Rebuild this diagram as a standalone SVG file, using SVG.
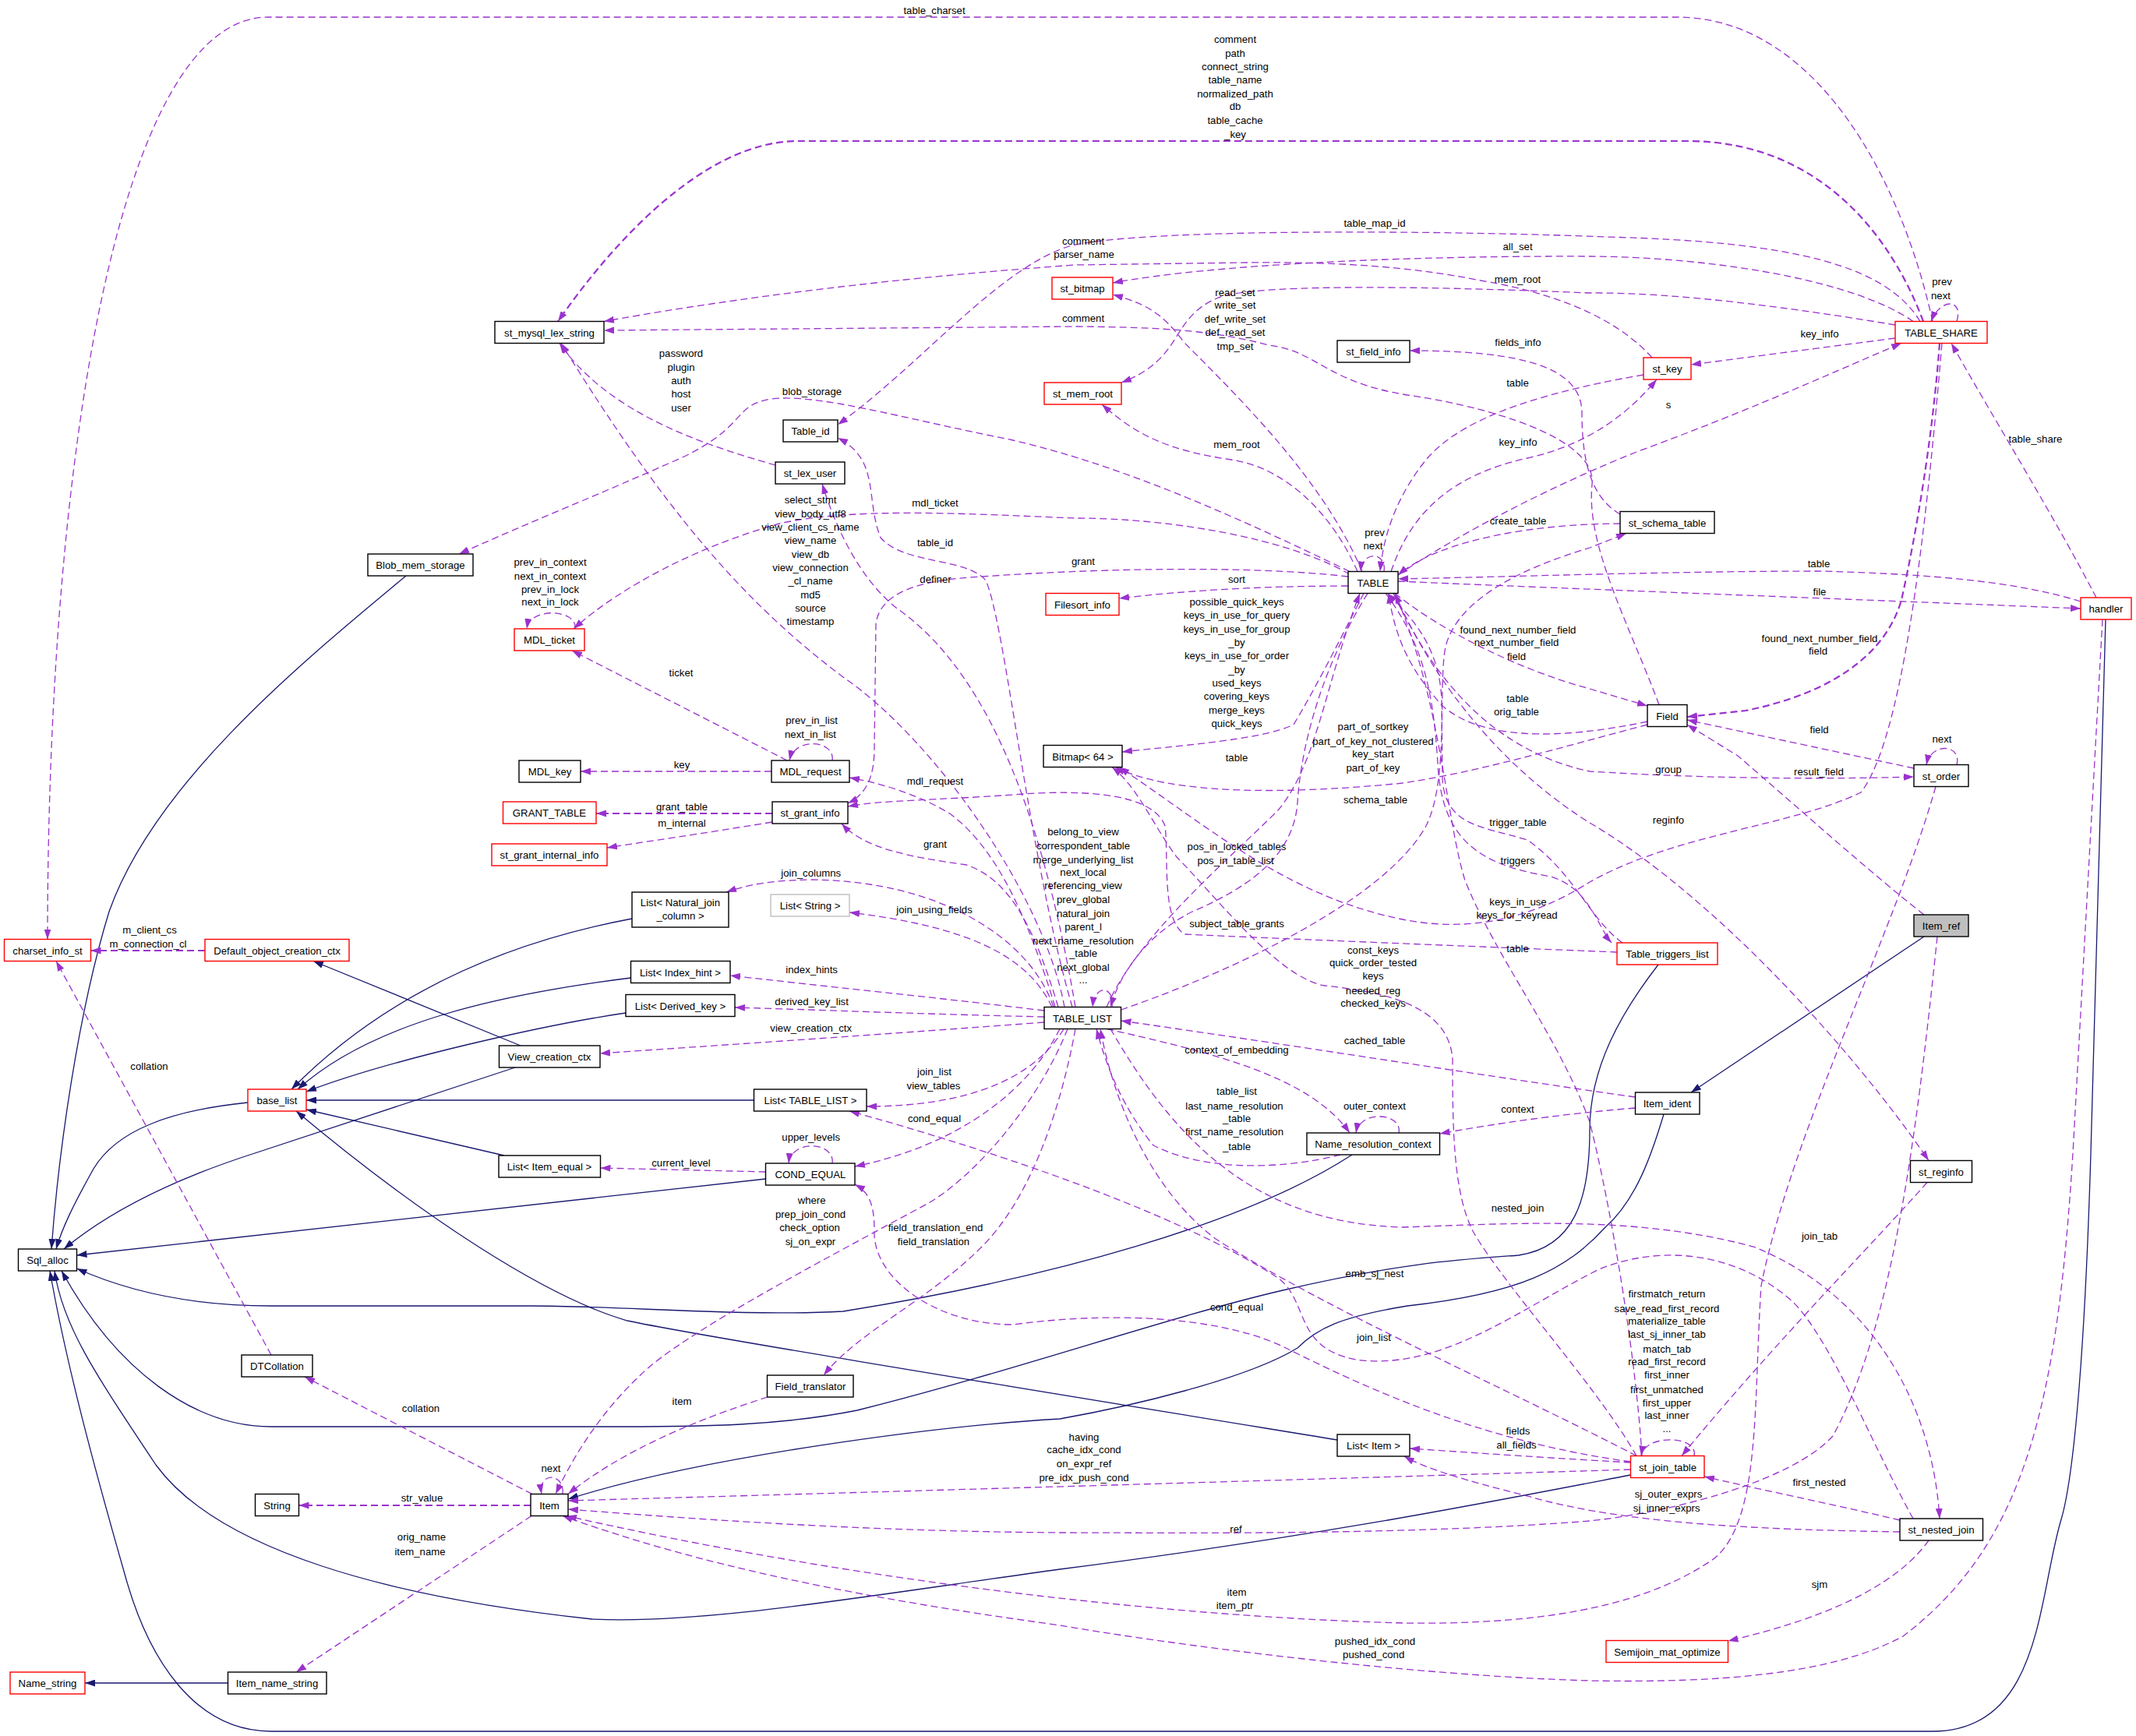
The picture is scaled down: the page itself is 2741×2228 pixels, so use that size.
<svg xmlns="http://www.w3.org/2000/svg" width="2741" height="2228" viewBox="0 0 2741 2228">
<defs>
<style>
.n rect{fill:#fff;stroke:#000;stroke-width:1.4}
.n.r rect{stroke:#ff0000}
.n.g rect{stroke:#bfbfbf}
.n.f rect{fill:#bfbfbf}
text{font-family:"Liberation Sans",Arial,Helvetica,sans-serif;font-size:13.2px;text-anchor:middle;fill:#000}
.d{fill:none;stroke:#9a32cd;stroke-width:1.3;stroke-dasharray:9,5;marker-end:url(#ap)}
.d2{stroke-width:2.2}
.s{fill:none;stroke:#191970;stroke-width:1.3;marker-end:url(#an)}
</style>
<marker id="ap" markerUnits="userSpaceOnUse" markerWidth="13" markerHeight="9" refX="13" refY="4.5" orient="auto"><path d="M0,0 L13,4.5 L0,9 z" fill="#9a32cd"/></marker>
<marker id="an" markerUnits="userSpaceOnUse" markerWidth="13" markerHeight="9" refX="13" refY="4.5" orient="auto"><path d="M0,0 L13,4.5 L0,9 z" fill="#191970"/></marker>
</defs>
<rect width="2741" height="2228" fill="#fff"/>
<g id="edges">
<path class="s" d="M 521 739 C 400 840, 200 1000, 140 1170 C 100 1300, 75 1480, 66 1603"/>
<path class="s" d="M 668 1342 L 402 1233.5"/>
<path class="s" d="M 661 1370 L 330 1479 Q 170 1530 82 1603"/>
<path class="s" d="M 318 1415 C 220 1425, 150 1450, 120 1500 C 95 1545, 80 1575, 72 1603"/>
<path class="s" d="M 811 1179 C 700 1200, 520 1250, 374 1398"/>
<path class="s" d="M 809.5 1255 C 650 1275, 480 1310, 382 1398"/>
<path class="s" d="M 803 1300 C 700 1315, 500 1360, 393 1401"/>
<path class="s" d="M 967.5 1412 L 393 1412"/>
<path class="s" d="M 647 1483 L 393 1424"/>
<path class="s" d="M 1716 1848 C 1300 1780, 900 1715, 805 1695 C 700 1665, 540 1560, 380 1426"/>
<path class="s" d="M 982.5 1513 L 98.5 1611"/>
<path class="s" d="M 1735 1482 C 1600 1570, 1350 1640, 1082 1683 C 950 1690, 800 1676, 680 1676 L 348 1676 C 250 1676, 170 1660, 98.5 1628"/>
<path class="s" d="M 2128 1238 C 2080 1300, 2040 1370, 2040 1450 C 2040 1540, 2020 1600, 1949 1611 C 1880 1616, 1800 1620, 1646 1656 C 1500 1690, 1300 1760, 1100 1810 C 1000 1830, 900 1831, 800 1831 L 348 1831 C 250 1831, 150 1760, 79 1631"/>
<path class="s" d="M 2135 1430 C 2120 1480, 2100 1540, 2060 1575 C 2010 1630, 1950 1660, 1806 1676 C 1720 1690, 1690 1705, 1665 1730 C 1600 1770, 1450 1805, 1360 1821 C 1200 1830, 900 1870, 729 1924"/>
<path class="s" d="M 2092.5 1893 C 1900 1930, 1700 1970, 1360 2014 C 1100 2050, 900 2085, 760 2078 C 500 2050, 280 1990, 200 1880 C 120 1760, 80 1700, 70 1631"/>
<path class="s" d="M 2702 795 L 2683 1480 C 2675 1750, 2660 1900, 2645 1950 C 2615 2050, 2620 2222, 2480 2222 L 348 2222 C 250 2222, 190 2130, 160 2020 C 120 1880, 85 1750, 64 1631"/>
<path class="s" d="M 2469 1202 L 2170 1402"/>
<path class="s" d="M 292.5 2160 L 109 2160"/>

<path class="d" d="M 2480 412.5 C 2440 230, 2330 22, 2152 22 L 344 22 C 150 22, 61 600, 61 1205.5"/>
<path class="d d2" d="M 2468 412.5 C 2430 310, 2340 181, 2165 181 L 1024 181 C 900 181, 780 320, 716 412.5"/>
<path class="d" d="M 2464 412.5 C 2420 340, 2300 310, 2060 304 C 1800 294, 1450 295, 1372 316 C 1280 345, 1180 470, 1075 545"/>
<path class="d" d="M 2120 459 C 2085 420, 2020 380, 1900 360 C 1800 340, 1700 336, 1600 337 L 1380 340 C 1100 360, 900 390, 775 412.5"/>
<path class="d" d="M 2455 412.5 C 2380 360, 2200 330, 2040 329 C 1800 328, 1550 340, 1428 363"/>
<path class="d" d="M 2432 417 C 2300 395, 2150 375, 2040 376 C 1800 366, 1600 365, 1561 383 C 1500 410, 1520 460, 1439 491"/>
<path class="d" d="M 2432 434 L 2170 468"/>
<path class="d" d="M 2511 412.5 C 2520 383, 2490 382, 2478 412.5"/>
<path class="d" d="M 1748 733.5 C 1700 620, 1600 520, 1520 440 C 1490 400, 1470 390, 1428 378"/>
<path class="d" d="M 2129 904.5 C 2090 800, 2035 700, 2043 622 C 2050 560, 1900 520, 1806 507 C 1700 490, 1690 450, 1628 443 C 1560 425, 1500 420, 1380 419 L 775 424"/>
<path class="d" d="M 2079 660 C 2045 640, 2030 600, 2030 530 C 2030 470, 1950 450, 1809 450"/>
<path class="d" d="M 995 597 C 900 570, 780 530, 718 440.5"/>
<path class="d" d="M 2109 481 C 2000 500, 1880 530, 1830 590 C 1790 640, 1775 690, 1771 733.5"/>
<path class="d" d="M 1732 733.5 C 1600 670, 1450 600, 1300 565 C 1150 535, 1050 505, 990 512 C 940 520, 960 545, 880 585 C 780 630, 680 670, 589 711"/>
<path class="d" d="M 1794 738 C 1880 680, 2000 620, 2100 580 C 2250 525, 2370 470, 2440 440.5"/>
<path class="d" d="M 2690 767 C 2640 670, 2560 540, 2504 440.5"/>
<path class="d" d="M 1785 733.5 C 1810 660, 1860 610, 1960 588 C 2040 570, 2090 530, 2126 487"/>
<path class="d" d="M 1742 733.5 C 1710 660, 1650 600, 1580 590 C 1500 578, 1460 560, 1414 519"/>
<path class="d" d="M 1366 1292.5 C 1340 1150, 1200 950, 1082 869 C 950 770, 850 650, 720 440.5"/>
<path class="d" d="M 1732 737 C 1650 690, 1500 665, 1380 665 C 1250 660, 1100 650, 1000 672 C 900 700, 800 750, 736 807"/>
<path class="d" d="M 2079 672 C 1980 672, 1850 690, 1794 738"/>
<path class="d" d="M 1776 733.5 C 1780 708, 1748 706, 1746 733.5"/>
<path class="d" d="M 738 807 C 742 782, 680 778, 676 807"/>
<path class="d" d="M 1376 1292.5 C 1320 1100, 1290 800, 1265 745 C 1240 715, 1160 725, 1130 690 C 1110 640, 1130 590, 1075 562"/>
<path class="d" d="M 2670 772 C 2600 750, 2500 737, 2334 733 C 2150 733, 1950 740, 1794 743"/>
<path class="d" d="M 1730 740 C 1600 725, 1400 730, 1260 740 C 1180 744, 1130 760, 1124 800 L 1122 960 C 1122 1000, 1110 1020, 1088 1031"/>
<path class="d" d="M 1730 752 C 1620 752, 1520 758, 1436 768"/>
<path class="d" d="M 1380 1292.5 C 1330 1000, 1250 850, 1150 780 C 1100 740, 1070 670, 1055 621"/>
<path class="d" d="M 1794 746 C 2000 755, 2400 770, 2670 781"/>
<path class="d" d="M 1750 761.5 C 1720 820, 1690 880, 1660 930 C 1620 950, 1500 958, 1440 965"/>
<path class="d" d="M 1790 761.5 C 1850 810, 1950 860, 2040 884 L 2114 906"/>
<path class="d d2" d="M 2489 440.5 C 2480 560, 2460 680, 2440 770 C 2420 840, 2350 890, 2240 912 L 2165 920"/>
<path class="d" d="M 1010 976 L 734 835"/>
<path class="d" d="M 2114 926 C 2000 950, 1900 950, 1850 905 C 1810 860, 1790 820, 1782 761.5"/>
<path class="d" d="M 1068 976 C 1072 950, 1020 945, 1013 976"/>
<path class="d" d="M 2114 930 C 2000 960, 1900 990, 1800 1005 C 1650 1020, 1500 1020, 1431 984.5"/>
<path class="d" d="M 2456 986 L 2165 924"/>
<path class="d" d="M 2511 981.5 C 2518 955, 2478 952, 2472 981.5"/>
<path class="d" d="M 1788 761.5 C 1830 850, 1900 960, 2040 990 C 2200 1000, 2350 1000, 2456 997"/>
<path class="d" d="M 2469 1174 C 2400 1120, 2300 1030, 2230 970 L 2165 930"/>
<path class="d" d="M 1354 1292.5 C 1320 1180, 1280 1090, 1220 1045 C 1180 1020, 1130 1005, 1090 998"/>
<path class="d" d="M 1438.5 1296 C 1600 1240, 1780 1150, 1830 1060 C 1860 1000, 1845 880, 1855 830 C 1870 770, 1950 730, 2040 703 L 2087 684.5"/>
<path class="d" d="M 1790 761.5 C 1850 900, 1950 1000, 2040 1056 C 2200 1150, 2380 1350, 2475 1489.5"/>
<path class="d" d="M 2082 1210 C 2040 1180, 2020 1120, 1960 1078 C 1900 1060, 1855 1060, 1851 1000 L 1850 900 C 1848 830, 1810 790, 1780 761.5"/>
<path class="d" d="M 1778 761.5 C 1830 830, 1840 900, 1845 980 C 1850 1080, 1900 1110, 1990 1125 C 2040 1140, 2050 1190, 2068 1210"/>
<path class="d" d="M 1427 1292.5 C 1430 1265, 1405 1262, 1402 1292.5"/>
<path class="d" d="M 1358 1292.5 C 1330 1200, 1300 1130, 1240 1110 C 1170 1100, 1110 1090, 1080 1057"/>
<path class="d" d="M 1755 761.5 C 1700 850, 1670 950, 1665 1030 C 1660 1100, 1600 1140, 1530 1170 C 1480 1195, 1440 1240, 1425 1292.5"/>
<path class="d" d="M 1420 1292.5 C 1460 1200, 1580 1100, 1640 1040 C 1690 980, 1700 880, 1745 761.5"/>
<path class="d" d="M 1352 1292.5 C 1320 1200, 1200 1130, 1040 1129 C 990 1130, 960 1135, 932 1145"/>
<path class="d" d="M 1350 1292.5 C 1320 1230, 1250 1190, 1090 1171"/>
<path class="d" d="M 2492 440.5 C 2470 700, 2440 950, 2388 1017 C 2300 1060, 2150 1070, 2040 1132 C 1980 1170, 1900 1200, 1800 1180 C 1650 1150, 1550 1060, 1436 984.5"/>
<path class="d" d="M 2075 1222 C 1900 1215, 1650 1205, 1520 1199 C 1490 1180, 1500 1100, 1495 1060 C 1480 1020, 1400 1012, 1300 1020 C 1200 1027, 1130 1027, 1088 1035"/>
<path class="d" d="M 2107 1868.5 C 2100 1750, 2070 1560, 2040 1440 C 2000 1330, 1920 1230, 1880 1130 C 1855 1050, 1850 900, 1790 761.5"/>
<path class="d" d="M 2100 1868.5 C 2050 1780, 1930 1650, 1890 1580 C 1865 1530, 1864 1450, 1864 1360 C 1860 1300, 1800 1275, 1700 1265 C 1640 1255, 1560 1150, 1510 1100 C 1480 1060, 1460 1010, 1427 984.5"/>
<path class="d" d="M 1340 1297 C 1200 1280, 1050 1265, 937 1252"/>
<path class="d" d="M 1340 1305 C 1200 1302, 1050 1296, 943 1293"/>
<path class="d" d="M 1340 1312 C 1100 1330, 900 1343, 770 1352"/>
<path class="d" d="M 2098.5 1408 C 1900 1380, 1650 1340, 1438.5 1310"/>
<path class="d" d="M 1420 1320.5 C 1550 1350, 1680 1380, 1732 1454"/>
<path class="d" d="M 348 1739 L 72 1233.5"/>
<path class="d d2" d="M 263 1220 L 116.5 1220"/>
<path class="d" d="M 1365 1320.5 C 1330 1380, 1250 1420, 1112 1420"/>
<path class="d" d="M 1720 1482 C 1650 1500, 1550 1505, 1480 1470 C 1440 1420, 1420 1370, 1407 1320.5"/>
<path class="d" d="M 1795 1454 C 1800 1428, 1745 1424, 1740 1454"/>
<path class="d" d="M 2098.5 1422 C 2000 1430, 1920 1442, 1847.5 1455"/>
<path class="d" d="M 1360 1320.5 C 1320 1400, 1230 1470, 1097 1497"/>
<path class="d" d="M 1068 1493 C 1072 1465, 1015 1462, 1012 1493"/>
<path class="d" d="M 982.5 1504 L 770.5 1499"/>
<path class="d" d="M 1370 1320.5 C 1330 1420, 1250 1510, 1190 1545 C 1050 1620, 900 1700, 836 1752 C 780 1800, 740 1860, 713 1917.5"/>
<path class="d" d="M 1380 1320.5 C 1360 1430, 1320 1540, 1260 1600 C 1190 1670, 1100 1710, 1057 1765"/>
<path class="d" d="M 1425 1320.5 C 1500 1450, 1600 1570, 1800 1575 C 1950 1570, 2100 1560, 2250 1600 C 2400 1660, 2480 1800, 2489 1949"/>
<path class="d" d="M 2473 1517.5 C 2400 1600, 2280 1720, 2158 1868.5"/>
<path class="d" d="M 2100 1868.5 C 1950 1790, 1700 1680, 1560 1590 C 1480 1530, 1430 1420, 1412 1320.5"/>
<path class="d" d="M 2174 1868.5 C 2180 1842, 2110 1840, 2106 1868.5"/>
<path class="d" d="M 2092.5 1876 C 1900 1850, 1750 1780, 1650 1730 C 1580 1695, 1450 1680, 1300 1700 C 1200 1700, 1120 1640, 1122 1580 C 1122 1545, 1115 1530, 1097 1520"/>
<path class="d" d="M 2455 1949 C 2400 1850, 2350 1720, 2300 1670 C 2220 1600, 2120 1600, 2050 1630 C 1950 1680, 1850 1760, 1740 1745 C 1660 1730, 1680 1670, 1640 1640 C 1500 1550, 1250 1470, 1090 1426"/>
<path class="d" d="M 985 1793 C 900 1820, 800 1860, 729 1917.5"/>
<path class="d" d="M 683 1917.5 L 391 1767"/>
<path class="d" d="M 2092.5 1877 C 2000 1872, 1900 1865, 1809 1859"/>
<path class="d" d="M 2092.5 1886 C 1800 1895, 1300 1910, 729 1926"/>
<path class="d" d="M 722 1917.5 C 725 1890, 690 1888, 695 1917.5"/>
<path class="d" d="M 2438 1951 C 2350 1930, 2250 1910, 2187 1895"/>
<path class="d" d="M 2438 1966 C 2250 1963, 2080 1955, 1960 1920 C 1880 1900, 1830 1885, 1802 1869"/>
<path class="d d2" d="M 681 1932 L 383.5 1932"/>
<path class="d" d="M 2486 1202 C 2460 1450, 2430 1700, 2352 1843 C 2300 1900, 2150 1940, 2040 1952 C 1800 1971, 1500 1967, 1360 1967 C 1100 1965, 900 1950, 729 1937"/>
<path class="d" d="M 682 1945.5 L 380 2146"/>
<path class="d" d="M 2475 1977 C 2430 2040, 2330 2080, 2217.5 2106"/>
<path class="d" d="M 2484 1009.5 C 2430 1200, 2300 1450, 2260 1650 C 2250 1800, 2260 1950, 2200 2000 C 2100 2070, 1950 2085, 1800 2083 C 1500 2075, 1100 2030, 727 1945.5"/>
<path class="d" d="M 2698 795 L 2660 1480 C 2640 1800, 2600 1980, 2442 2100 C 2350 2150, 2200 2160, 2040 2157 C 1800 2150, 1500 2110, 1360 2086 C 1100 2050, 900 2010, 722 1945.5"/>
<path class="d" d="M 990 990 L 745 990"/>
<path class="d d2" d="M 991 1044 L 765 1044"/>
<path class="d" d="M 991 1055 C 900 1070, 830 1080, 779 1088"/>
</g>
<g id="edge-labels">
<text x="1199" y="18">table_charset</text>
<text x="1585" y="55">comment</text>
<text x="1585" y="72.5">path</text>
<text x="1585" y="89.7">connect_string</text>
<text x="1585" y="107.4">table_name</text>
<text x="1585" y="124.6">normalized_path</text>
<text x="1585" y="141.4">db</text>
<text x="1585" y="159">table_cache</text>
<text x="1585" y="176.8">_key</text>
<text x="1764" y="291">table_map_id</text>
<text x="1390" y="313.6">comment</text>
<text x="1391" y="331">parser_name</text>
<text x="1947.5" y="321">all_set</text>
<text x="1947.5" y="363">mem_root</text>
<text x="2492" y="366">prev</text>
<text x="2490.5" y="383.5">next</text>
<text x="1585" y="379.6">read_set</text>
<text x="1585" y="396">write_set</text>
<text x="1585" y="413.6">def_write_set</text>
<text x="1585" y="431">def_read_set</text>
<text x="1585" y="448.5">tmp_set</text>
<text x="1390" y="413">comment</text>
<text x="2335" y="433">key_info</text>
<text x="1948" y="444">fields_info</text>
<text x="874" y="457.6">password</text>
<text x="874" y="475.8">plugin</text>
<text x="874" y="493">auth</text>
<text x="874" y="509.8">host</text>
<text x="874" y="527.5">user</text>
<text x="1947.5" y="496">table</text>
<text x="1042" y="507">blob_storage</text>
<text x="2141" y="523.7">s</text>
<text x="2612" y="568">table_share</text>
<text x="1948" y="571.5">key_info</text>
<text x="1587" y="575">mem_root</text>
<text x="1040" y="645.6">select_stmt</text>
<text x="1040" y="664">view_body_utf8</text>
<text x="1040" y="681">view_client_cs_name</text>
<text x="1040" y="698">view_name</text>
<text x="1040" y="716">view_db</text>
<text x="1040" y="733">view_connection</text>
<text x="1040" y="750">_cl_name</text>
<text x="1040" y="767.5">md5</text>
<text x="1040" y="785">source</text>
<text x="1040" y="801.5">timestamp</text>
<text x="1200" y="649.5">mdl_ticket</text>
<text x="1948" y="672.5">create_table</text>
<text x="1764" y="688">prev</text>
<text x="1762" y="704.5">next</text>
<text x="706" y="726">prev_in_context</text>
<text x="706" y="744">next_in_context</text>
<text x="706" y="761">prev_in_lock</text>
<text x="706" y="777">next_in_lock</text>
<text x="1200" y="700.7">table_id</text>
<text x="2334" y="727.5">table</text>
<text x="1390" y="724.6">grant</text>
<text x="1587" y="747.6">sort</text>
<text x="1200.5" y="748">definer</text>
<text x="2335" y="764">file</text>
<text x="1587" y="776.6">possible_quick_keys</text>
<text x="1587" y="793.8">keys_in_use_for_query</text>
<text x="1587" y="811.5">keys_in_use_for_group</text>
<text x="1587" y="828.7">_by</text>
<text x="1587" y="846">keys_in_use_for_order</text>
<text x="1587" y="863.7">_by</text>
<text x="1587" y="881">used_keys</text>
<text x="1587" y="898">covering_keys</text>
<text x="1587" y="915.8">merge_keys</text>
<text x="1587" y="932.6">quick_keys</text>
<text x="1948" y="812.5">found_next_number_field</text>
<text x="1946" y="829">next_number_field</text>
<text x="1946" y="847">field</text>
<text x="2335" y="823.5">found_next_number_field</text>
<text x="2333" y="840">field</text>
<text x="874" y="867.5">ticket</text>
<text x="1947.5" y="900.5">table</text>
<text x="1946" y="917.7">orig_table</text>
<text x="1041.6" y="929">prev_in_list</text>
<text x="1040" y="947">next_in_list</text>
<text x="1762" y="937">part_of_sortkey</text>
<text x="1762" y="955.5">part_of_key_not_clustered</text>
<text x="1762" y="972">key_start</text>
<text x="1762" y="990">part_of_key</text>
<text x="2334.6" y="941">field</text>
<text x="2492" y="952.6">next</text>
<text x="1587" y="977">table</text>
<text x="2141" y="992">group</text>
<text x="2334" y="995">result_field</text>
<text x="1200" y="1007">mdl_request</text>
<text x="1765" y="1031">schema_table</text>
<text x="2141" y="1056.5">reginfo</text>
<text x="1948" y="1060">trigger_table</text>
<text x="1390" y="1072">belong_to_view</text>
<text x="1390" y="1089.5">correspondent_table</text>
<text x="1390" y="1107.6">merge_underlying_list</text>
<text x="1390" y="1124">next_local</text>
<text x="1390" y="1141">referencing_view</text>
<text x="1390" y="1159">prev_global</text>
<text x="1390" y="1176.6">natural_join</text>
<text x="1390" y="1193.8">parent_l</text>
<text x="1390" y="1211.5">next_name_resolution</text>
<text x="1390" y="1228">_table</text>
<text x="1390" y="1246">next_global</text>
<text x="1390" y="1262">...</text>
<text x="1200" y="1087.6">grant</text>
<text x="1587" y="1091.4">pos_in_locked_tables</text>
<text x="1585.5" y="1108.6">pos_in_table_list</text>
<text x="1947.5" y="1108.6">triggers</text>
<text x="1040.7" y="1125">join_columns</text>
<text x="1948" y="1161.7">keys_in_use</text>
<text x="1946.6" y="1179.4">keys_for_keyread</text>
<text x="1199" y="1172">join_using_fields</text>
<text x="1587" y="1189.5">subject_table_grants</text>
<text x="192" y="1197.6">m_client_cs</text>
<text x="190" y="1215.8">m_connection_cl</text>
<text x="1947.5" y="1221.5">table</text>
<text x="1762" y="1223.5">const_keys</text>
<text x="1762" y="1240">quick_order_tested</text>
<text x="1762" y="1257">keys</text>
<text x="1762" y="1275.6">needed_reg</text>
<text x="1762" y="1292">checked_keys</text>
<text x="1041.6" y="1249">index_hints</text>
<text x="1041.6" y="1289.5">derived_key_list</text>
<text x="1040.7" y="1323.5">view_creation_ctx</text>
<text x="1764" y="1340">cached_table</text>
<text x="1587" y="1352">context_of_embedding</text>
<text x="191.5" y="1373">collation</text>
<text x="1199" y="1380">join_list</text>
<text x="1198" y="1397.6">view_tables</text>
<text x="1587" y="1405">table_list</text>
<text x="1584" y="1423.5">last_name_resolution</text>
<text x="1587" y="1440">_table</text>
<text x="1584" y="1457">first_name_resolution</text>
<text x="1587" y="1475.6">_table</text>
<text x="1764" y="1424">outer_context</text>
<text x="1947.5" y="1428">context</text>
<text x="1199" y="1439.7">cond_equal</text>
<text x="1040.7" y="1463.6">upper_levels</text>
<text x="874" y="1496.5">current_level</text>
<text x="1041.6" y="1545">where</text>
<text x="1040" y="1563">prep_join_cond</text>
<text x="1039" y="1580.4">check_option</text>
<text x="1040" y="1597.6">sj_on_expr</text>
<text x="1200.5" y="1580.4">field_translation_end</text>
<text x="1198" y="1597.6">field_translation</text>
<text x="1947.5" y="1555">nested_join</text>
<text x="2335" y="1591">join_tab</text>
<text x="1764" y="1639">emb_sj_nest</text>
<text x="2139" y="1665">firstmatch_return</text>
<text x="2139" y="1683.5">save_read_first_record</text>
<text x="2139" y="1700">materialize_table</text>
<text x="2139" y="1717">last_sj_inner_tab</text>
<text x="2139" y="1735.5">match_tab</text>
<text x="2139" y="1752">read_first_record</text>
<text x="2139" y="1769">first_inner</text>
<text x="2139" y="1787.5">first_unmatched</text>
<text x="2139" y="1804.7">first_upper</text>
<text x="2139" y="1821">last_inner</text>
<text x="2139" y="1838">...</text>
<text x="1587" y="1681.6">cond_equal</text>
<text x="1763" y="1721">join_list</text>
<text x="875" y="1803">item</text>
<text x="540" y="1812">collation</text>
<text x="1948" y="1841">fields</text>
<text x="1946" y="1859">all_fields</text>
<text x="1391" y="1848.5">having</text>
<text x="1391" y="1865">cache_idx_cond</text>
<text x="1391" y="1883">on_expr_ref</text>
<text x="1391" y="1900.5">pre_idx_push_cond</text>
<text x="707" y="1888.6">next</text>
<text x="2334.6" y="1907">first_nested</text>
<text x="2141" y="1921.5">sj_outer_exprs</text>
<text x="2138.7" y="1939.7">sj_inner_exprs</text>
<text x="541.5" y="1927">str_value</text>
<text x="1586" y="1967">ref</text>
<text x="541" y="1977">orig_name</text>
<text x="539" y="1995.5">item_name</text>
<text x="2335" y="2037.5">sjm</text>
<text x="1587" y="2047.5">item</text>
<text x="1584.6" y="2064.7">item_ptr</text>
<text x="1764.5" y="2111.4">pushed_idx_cond</text>
<text x="1762.7" y="2128">pushed_cond</text>
<text x="875" y="985.7">key</text>
<text x="875" y="1039.7">grant_table</text>
<text x="875" y="1061">m_internal</text>
</g>
<g id="node-st_mysql_lex_string" class="n"><rect x="635" y="412.5" width="140" height="28"/><text x="705" y="431.5">st_mysql_lex_string</text></g>
<g id="node-Blob_mem_storage" class="n"><rect x="472" y="711" width="135" height="28"/><text x="539.5" y="730">Blob_mem_storage</text></g>
<g id="node-Table_id" class="n"><rect x="1005" y="539" width="70" height="28"/><text x="1040" y="558">Table_id</text></g>
<g id="node-st_lex_user" class="n"><rect x="995" y="593" width="89" height="28"/><text x="1039.5" y="612">st_lex_user</text></g>
<g id="node-st_bitmap" class="n r"><rect x="1350" y="356" width="78" height="28"/><text x="1389" y="375">st_bitmap</text></g>
<g id="node-st_mem_root" class="n r"><rect x="1340" y="491" width="99" height="28"/><text x="1389.5" y="510">st_mem_root</text></g>
<g id="node-st_field_info" class="n"><rect x="1716" y="437" width="93" height="28"/><text x="1762.5" y="456">st_field_info</text></g>
<g id="node-TABLE" class="n"><rect x="1730" y="733.5" width="64" height="28"/><text x="1762" y="752.5">TABLE</text></g>
<g id="node-TABLE_SHARE" class="n r"><rect x="2432" y="412.5" width="118" height="28"/><text x="2491" y="431.5">TABLE_SHARE</text></g>
<g id="node-st_key" class="n r"><rect x="2109" y="459" width="61" height="28"/><text x="2139.5" y="478">st_key</text></g>
<g id="node-st_schema_table" class="n"><rect x="2079" y="656.5" width="121" height="28"/><text x="2139.5" y="675.5">st_schema_table</text></g>
<g id="node-MDL_ticket" class="n r"><rect x="660" y="807" width="90" height="28"/><text x="705" y="826">MDL_ticket</text></g>
<g id="node-MDL_key" class="n"><rect x="666" y="976" width="79" height="28"/><text x="705.5" y="995">MDL_key</text></g>
<g id="node-GRANT_TABLE" class="n r"><rect x="645.5" y="1029" width="119.5" height="28"/><text x="705" y="1048">GRANT_TABLE</text></g>
<g id="node-st_grant_internal_info" class="n r"><rect x="631" y="1083" width="148" height="28"/><text x="705" y="1102">st_grant_internal_info</text></g>
<g id="node-charset_info_st" class="n r"><rect x="5.5" y="1205.5" width="111" height="28"/><text x="61" y="1224.5">charset_info_st</text></g>
<g id="node-Default_object_creation_ctx" class="n r"><rect x="263" y="1205.5" width="185" height="28"/><text x="355.5" y="1224.5">Default_object_creation_ctx</text></g>
<g id="node-View_creation_ctx" class="n"><rect x="640.5" y="1342" width="129.5" height="28"/><text x="705" y="1361">View_creation_ctx</text></g>
<g id="node-base_list" class="n r"><rect x="318" y="1398" width="75" height="28"/><text x="355.5" y="1417">base_list</text></g>
<g id="node-List_Item_equal" class="n"><rect x="640" y="1483" width="130.5" height="28"/><text x="705" y="1502">List&lt; Item_equal &gt;</text></g>
<g id="node-MDL_request" class="n"><rect x="990" y="976" width="100" height="28"/><text x="1040" y="995">MDL_request</text></g>
<g id="node-st_grant_info" class="n"><rect x="991" y="1029" width="97" height="28"/><text x="1039.5" y="1048">st_grant_info</text></g>
<g id="node-List_Natural_join_column" class="n"><rect x="811" y="1145" width="124" height="45"/><text x="873" y="1163">List&lt; Natural_join</text><text x="873" y="1180">_column &gt;</text></g>
<g id="node-List_String" class="n g"><rect x="989" y="1148" width="101" height="28"/><text x="1039.5" y="1167">List&lt; String &gt;</text></g>
<g id="node-List_Index_hint" class="n"><rect x="809.5" y="1233.5" width="127.5" height="28"/><text x="873" y="1252.5">List&lt; Index_hint &gt;</text></g>
<g id="node-List_Derived_key" class="n"><rect x="803" y="1276.5" width="140" height="28"/><text x="873" y="1295.5">List&lt; Derived_key &gt;</text></g>
<g id="node-TABLE_LIST" class="n"><rect x="1340" y="1292.5" width="98.5" height="28"/><text x="1389" y="1311.5">TABLE_LIST</text></g>
<g id="node-List_TABLE_LIST" class="n"><rect x="967.5" y="1398" width="144.5" height="28"/><text x="1040" y="1417">List&lt; TABLE_LIST &gt;</text></g>
<g id="node-Filesort_info" class="n r"><rect x="1342" y="761.5" width="94" height="28"/><text x="1389" y="780.5">Filesort_info</text></g>
<g id="node-Bitmap_64" class="n"><rect x="1339" y="956.5" width="101" height="28"/><text x="1389.5" y="975.5">Bitmap&lt; 64 &gt;</text></g>
<g id="node-Name_resolution_context" class="n"><rect x="1677" y="1454" width="170.5" height="28"/><text x="1762" y="1473">Name_resolution_context</text></g>
<g id="node-handler" class="n r"><rect x="2670" y="767" width="65" height="28"/><text x="2702.5" y="786">handler</text></g>
<g id="node-Field" class="n"><rect x="2114" y="904.5" width="51" height="28"/><text x="2139.5" y="923.5">Field</text></g>
<g id="node-st_order" class="n"><rect x="2456" y="981.5" width="70" height="28"/><text x="2491" y="1000.5">st_order</text></g>
<g id="node-Item_ref" class="n f"><rect x="2456" y="1174" width="70" height="28"/><text x="2491" y="1193">Item_ref</text></g>
<g id="node-Table_triggers_list" class="n r"><rect x="2075" y="1210" width="129" height="28"/><text x="2139.5" y="1229">Table_triggers_list</text></g>
<g id="node-Item_ident" class="n"><rect x="2098.5" y="1402" width="82.5" height="28"/><text x="2139.5" y="1421">Item_ident</text></g>
<g id="node-st_reginfo" class="n"><rect x="2451.5" y="1489.5" width="79" height="28"/><text x="2491" y="1508.5">st_reginfo</text></g>
<g id="node-Sql_alloc" class="n"><rect x="23.5" y="1603" width="75" height="28"/><text x="61" y="1622">Sql_alloc</text></g>
<g id="node-DTCollation" class="n"><rect x="310" y="1739" width="91" height="28"/><text x="355.5" y="1758">DTCollation</text></g>
<g id="node-String" class="n"><rect x="327.5" y="1917.5" width="56" height="28"/><text x="355.5" y="1936.5">String</text></g>
<g id="node-Name_string" class="n r"><rect x="13" y="2146" width="96" height="28"/><text x="61" y="2165">Name_string</text></g>
<g id="node-Item_name_string" class="n"><rect x="292.5" y="2146" width="126.5" height="28"/><text x="355.5" y="2165">Item_name_string</text></g>
<g id="node-Item" class="n"><rect x="681" y="1917.5" width="48" height="28"/><text x="705" y="1936.5">Item</text></g>
<g id="node-COND_EQUAL" class="n"><rect x="982.5" y="1493" width="114.5" height="28"/><text x="1040" y="1512">COND_EQUAL</text></g>
<g id="node-Field_translator" class="n"><rect x="984.5" y="1765" width="110.5" height="28"/><text x="1040" y="1784">Field_translator</text></g>
<g id="node-List_Item" class="n"><rect x="1716" y="1841" width="93" height="28"/><text x="1762.5" y="1860">List&lt; Item &gt;</text></g>
<g id="node-st_join_table" class="n r"><rect x="2092.5" y="1868.5" width="94.5" height="28"/><text x="2140" y="1887.5">st_join_table</text></g>
<g id="node-st_nested_join" class="n"><rect x="2438" y="1949" width="106.5" height="28"/><text x="2491" y="1968">st_nested_join</text></g>
<g id="node-Semijoin_mat_optimize" class="n r"><rect x="2061" y="2105.5" width="156.5" height="28"/><text x="2139.5" y="2124.5">Semijoin_mat_optimize</text></g>
</svg>
